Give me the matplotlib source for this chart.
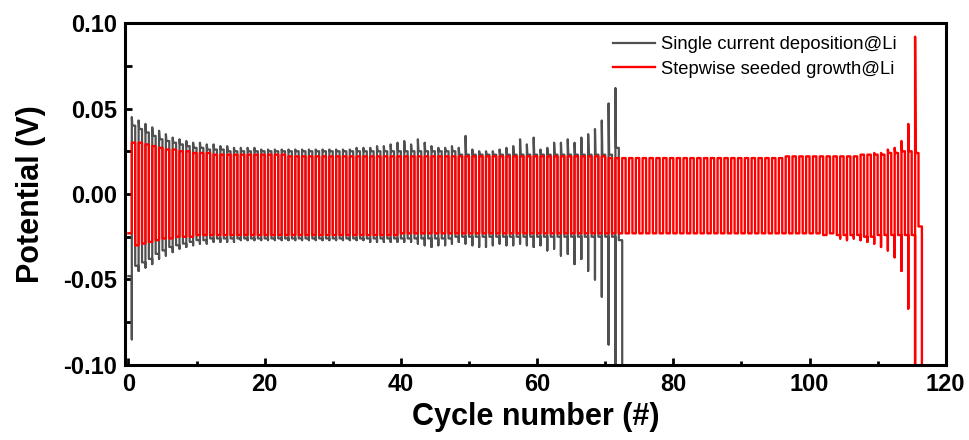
import numpy as np
import matplotlib.pyplot as plt
from matplotlib.ticker import MultipleLocator, FormatStrFormatter

plt.rcParams['font.family'] = ['Liberation Sans', 'DejaVu Sans']
plt.rcParams['axes.unicode_minus'] = False

# potentials, one value per cycle, in mV
# single current deposition: spike at mid cycle, then flat parts
black_top_peak = [45, 43, 41, 39, 37, 35, 33, 32, 31, 30,
                  30, 29, 29, 28, 28, 27, 27, 27, 27, 26,
                  26, 26, 26, 26, 26, 26, 26, 26, 26, 26,
                  26, 26, 26, 27, 27, 27, 28, 28, 29, 30,
                  31, 29, 32, 30, 28, 27, 27, 28, 27, 34,
                  26, 25, 25, 25, 26, 27, 28, 32, 29, 33,
                  26, 27, 30, 30, 32, 30, 33, 35, 38, 43,
                  53, 62]
black_top_flat = [40, 38, 36, 34, 32, 31, 30, 29, 28, 27,
                  27, 26, 26, 26, 25, 25, 25, 25, 25, 25,
                  25, 25, 25, 25, 25, 25, 25, 25, 25, 25,
                  25, 25, 25, 25, 25, 25, 25, 25, 25, 25,
                  25, 25, 25, 25, 25, 25, 25, 25, 23, 23,
                  23, 23, 23, 23, 23, 23, 23, 23, 23, 23,
                  23, 23, 23, 23, 23, 23, 23, 23, 23, 23,
                  23, 27]
black_bot_peak = [-85, -45, -43, -41, -38, -36, -34, -32, -31, -30,
                  -29, -29, -28, -28, -28, -28, -27, -27, -27, -27,
                  -27, -27, -27, -27, -27, -27, -27, -27, -27, -27,
                  -27, -27, -27, -27, -27, -28, -28, -28, -28, -28,
                  -28, -28, -29, -30, -31, -30, -30, -29, -28, -29,
                  -30, -31, -31, -30, -29, -30, -30, -29, -30, -31,
                  -30, -33, -32, -36, -35, -41, -38, -45, -50, -60,
                  -88, -100]
black_bot_flat = [-48, -42, -40, -38, -35, -33, -31, -30, -29, -28,
                  -27, -27, -26, -26, -26, -26, -26, -26, -26, -26,
                  -26, -26, -26, -26, -26, -26, -26, -26, -26, -26,
                  -26, -26, -26, -26, -26, -26, -26, -26, -26, -26,
                  -26, -26, -26, -26, -26, -26, -26, -26, -25, -25,
                  -25, -25, -25, -25, -25, -25, -25, -25, -25, -25,
                  -25, -25, -25, -25, -25, -25, -25, -25, -25, -25,
                  -25, -25, -27]
black_end = -100

# stepwise seeded growth
red_top = [30, 30, 29, 28, 27, 26, 26, 25, 25, 24,
           24, 24, 23, 23, 23, 23, 23, 23, 23, 23,
           23, 23, 23, 22, 22, 22, 22, 22, 22, 22,
           22, 22, 22, 22, 22, 22, 22, 22, 22, 22,
           22, 22, 22, 22, 22, 22, 22, 22, 22, 22,
           22, 22, 22, 22, 22, 22, 22, 22, 22, 22,
           22, 22, 22, 22, 22, 22, 22, 22, 22, 22,
           21, 21, 21, 21, 21, 21, 21, 21, 21, 21,
           21, 21, 21, 21, 21, 21, 21, 21, 21, 21,
           21, 21, 21, 21, 21, 21, 22, 22, 22, 22,
           22, 22, 22, 22, 22, 22, 22, 23, 23, 23,
           23, 24, 24, 25, 25, 24]
red_bot = [-23, -30, -29, -28, -27, -26, -26, -25, -25, -25,
           -24, -24, -24, -24, -24, -24, -24, -24, -24, -24,
           -24, -24, -24, -24, -24, -24, -24, -24, -24, -24,
           -24, -24, -24, -24, -24, -24, -24, -24, -24, -24,
           -23, -23, -23, -23, -23, -23, -23, -23, -23, -23,
           -23, -23, -23, -23, -23, -23, -23, -23, -23, -23,
           -23, -23, -23, -23, -23, -23, -23, -23, -23, -23,
           -23, -23, -23, -23, -23, -23, -23, -23, -23, -23,
           -23, -23, -23, -23, -23, -23, -23, -23, -23, -23,
           -23, -23, -23, -23, -23, -23, -23, -23, -23, -23,
           -23, -23, -24, -23, -24, -24, -24, -24, -25, -25,
           -24, -24, -24, -24, -24, -24, -19]
red_spike_cycle = [104, 105, 106, 107, 108, 109, 110, 111, 112, 113, 114, 115]
red_spike_top = [22, 22, 22, 23, 23, 24, 24, 26, 27, 31, 41, 92]
red_spike_bot = [-26, -27, -26, -27, -28, -29, -31, -33, -37, -45, -67, -100]
red_end = -100


def trace(top_flat, bot_flat, spikes, end):
    # cycle i: discharge half on [i, i+0.5], charge half on [i+0.5, i+1]
    xs, ys = [], []
    for i in range(len(top_flat)):
        xs += [i, i + 0.5]
        ys += [bot_flat[i], bot_flat[i]]
        if i in spikes:
            lo, hi = spikes[i]
            xs += [i + 0.5, i + 0.5, i + 0.58]
            ys += [lo, hi, top_flat[i]]
        else:
            xs += [i + 0.5]
            ys += [top_flat[i]]
        xs += [i + 1]
        ys += [top_flat[i]]
    n = len(top_flat)
    xs += [n, n + 0.5, n + 0.5]
    ys += [bot_flat[n], bot_flat[n], end]
    return np.array(xs), np.array(ys) / 1000.0


black_spikes = {i: (black_bot_peak[i], black_top_peak[i]) for i in range(len(black_top_peak))}
red_spikes = {c: (b, t) for c, b, t in zip(red_spike_cycle, red_spike_bot, red_spike_top)}

bx, by = trace(black_top_flat, black_bot_flat, black_spikes, black_end)
rx, ry = trace(red_top, red_bot, red_spikes, red_end)

fig = plt.figure(figsize=(9.69, 4.40), dpi=100)
ax = fig.add_axes([0.129, 0.1705, 0.847, 0.7772])

ax.plot(bx, by, color='#505050', lw=1.6, label='Single current deposition@Li')
ax.plot(rx, ry, color='#ff0000', lw=1.7, label='Stepwise seeded growth@Li')

ax.set_xlim(-0.5, 120)
ax.set_ylim(-0.1, 0.1)
ax.xaxis.set_major_locator(MultipleLocator(20))
ax.xaxis.set_minor_locator(MultipleLocator(10))
ax.yaxis.set_major_locator(MultipleLocator(0.05))
ax.yaxis.set_minor_locator(MultipleLocator(0.025))
ax.yaxis.set_major_formatter(FormatStrFormatter('%.2f'))

for s in ax.spines.values():
    s.set_linewidth(2.2)
ax.tick_params(which='both', direction='in', top=False, right=False, width=2)
ax.tick_params(which='major', length=5, pad=6, labelsize=17)
ax.tick_params(axis='x', which='minor', length=3)
ax.tick_params(axis='y', which='minor', length=5)
for lab in ax.get_xticklabels() + ax.get_yticklabels():
    lab.set_fontweight('bold')

ax.set_xlabel('Cycle number (#)', fontsize=22, fontweight='bold', labelpad=4)
ax.set_ylabel('Potential (V)', fontsize=22, fontweight='bold', labelpad=12)

ax.legend(loc='upper left', bbox_to_anchor=(613 / 969, 1 - 36 / 440),
          bbox_transform=fig.transFigure, frameon=False, fontsize=13.2,
          handlelength=2.3, handletextpad=0.3, labelspacing=0.42,
          borderpad=0, borderaxespad=0)

fig.savefig('out.png', dpi=100)
